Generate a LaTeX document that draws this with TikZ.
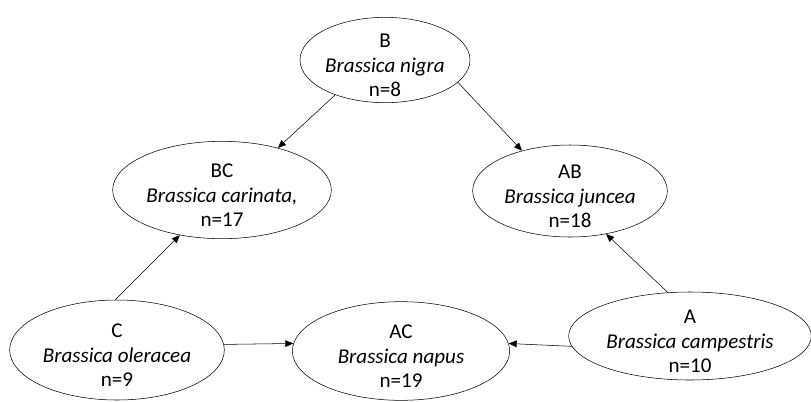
\documentclass[tikz,border=0pt]{standalone}
\usepackage{fontspec}
\setmainfont{Carlito}
\usetikzlibrary{shapes.geometric,arrows.meta}

\begin{document}
\begin{tikzpicture}[x=0.75pt, y=-0.75pt, >={Triangle[length=6pt,width=5pt]},
    species/.style={ellipse, draw, inner sep=0pt},
    names/.style={align=center, yshift=-4pt, font=\fontsize{15.8}{18.6}\selectfont}]

        \useasboundingbox (0,0) rectangle (811,401);

        \node (B) at (385, 60) [species, minimum width=127.5pt, minimum height=64pt,
            label={[names]center:B\\\textit{Brassica nigra}\\n=8}] {};
        \node (BC) at (222, 190) [species, minimum width=164pt, minimum height=73pt,
            label={[names]center:BC\\\textit{Brassica carinata,}\\n=17}] {};
        \node (AB) at (570, 191) [species, minimum width=146pt, minimum height=69pt,
            label={[names]center:AB\\\textit{Brassica juncea}\\n=18}] {};

        \node (C) at (117, 350) [species, minimum width=161pt, minimum height=75pt,
            label={[names]center:C\\\textit{Brassica oleracea}\\n=9}] {};
        \node (AC) at (401, 351) [species, minimum width=163pt, minimum height=74pt,
            label={[names]center:AC\\\textit{Brassica napus}\\n=19}] {};
        \node (A) at (690, 336) [species, minimum width=182pt, minimum height=66pt,
            label={[names]center:A\\\textit{Brassica campestris}\\n=10}] {};

        \draw[->] (B.215) -- (BC.37);
        \draw[->] (B.343) -- (AB.140);

        \draw[->] (C.92) -- (BC.227);
        \draw[->] (A.117) -- (AB.310);

        \draw[->] (C.3) -- (AC.176);
        \draw[->] (A.185) -- (AC.4);

    \end{tikzpicture}
\end{document}
